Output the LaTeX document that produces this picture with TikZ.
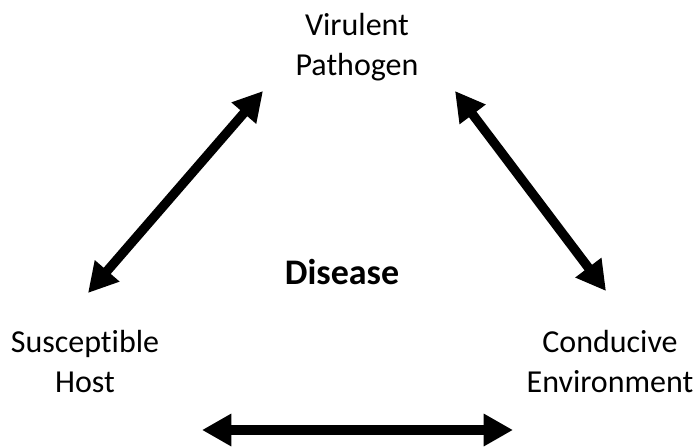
\documentclass[tikz,border=0pt]{standalone}
\usepackage{fontspec}
\setmainfont{Carlito}[Ligatures=NoCommon]
\usetikzlibrary{arrows.meta}
\tikzset{
  factor/.style={align=center, font=\fontsize{24}{30}\selectfont, inner sep=0pt},
  link/.style={line width=7pt, {Triangle[length=22pt,width=23pt]}-{Triangle[length=22pt,width=23pt]}}
}
\begin{document}
\begin{tikzpicture}[x=0.75pt,y=-0.75pt]
    \useasboundingbox (0,0) rectangle (695,446);
    % Factors
    \node[factor] (path) at (357,47) {Virulent\\Pathogen};
    \node[factor] (host) at (85,362) {Susceptible\\Host};
    \node[factor] (env) at (610,362) {Conducive\\Environment};
    \node[font=\fontsize{27}{32}\selectfont\bfseries, inner sep=0pt] (dis) at (342,272) {Disease};

    % Arrow ends
    \coordinate (hp) at (88,293); \coordinate (ph) at (263,91);
    \coordinate (pe) at (455,91); \coordinate (ep) at (606,291);
    \coordinate (he) at (202,430); \coordinate (eh) at (513,430);

    % Links
    \draw[link] (hp) -- (ph);
    \draw[link] (pe) -- (ep);
    \draw[link] (he) -- (eh);
\end{tikzpicture}
\end{document}
